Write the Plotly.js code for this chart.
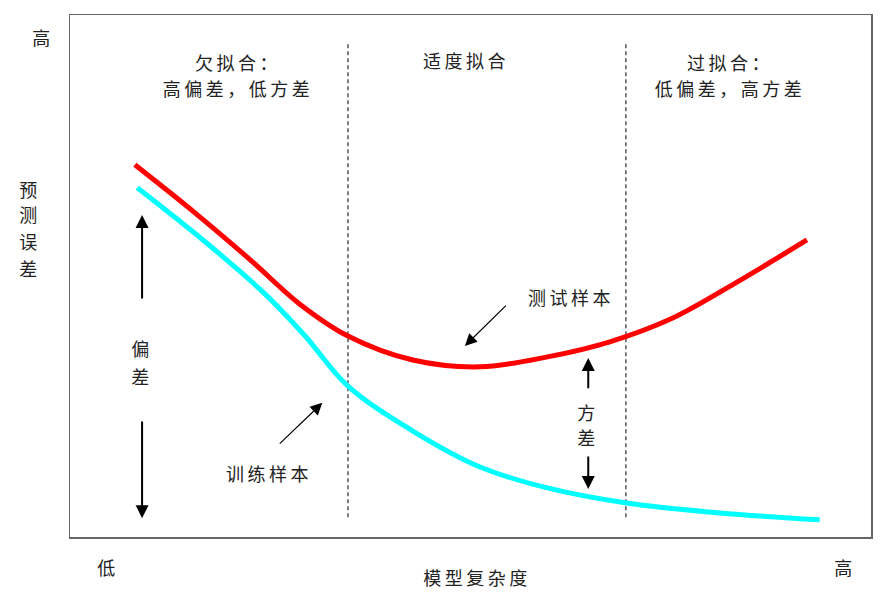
<!DOCTYPE html>
<html><head><meta charset="utf-8">
<script src="https://cdn.plot.ly/plotly-3.0.1.min.js"></script>
<style>
html,body{margin:0;padding:0;background:#fff;}
#chart .annotation-text{letter-spacing:3.5px;}
</style>
</head><body>
<div id="chart" style="width:890px;height:601px;"></div>
<script>
// Model complexity (0-100) vs prediction error (0-100)
const testX  = [8.1, 15.6, 22.5, 28.7, 34.7, 42.8, 51.2, 59.6, 67.4, 74.9, 83.0, 92.0];
const testY  = [71.3, 62.1, 53.1, 44.6, 38.5, 33.9, 32.6, 34.5, 37.4, 41.7, 48.6, 56.9];
const trainX = [8.4, 16.6, 24.1, 29.3, 34.7, 42.8, 51.2, 59.6, 69.5, 81.1, 93.6];
const trainY = [66.9, 56.9, 46.9, 38.6, 28.9, 20.3, 13.4, 9.4, 6.5, 4.6, 3.3];
const dividerX = [34.7, 69.4];
const dividerY = [3.8, 94.6];
const regionLines = [["欠拟合：", "高偏差，低方差"], ["适度拟合"], ["过拟合：", "低偏差，高方差"]];
const regionX = [21.0, 49.4, 82.4];
const xTitle = "模型复杂度";
const yTitle = "预测误差";
const lowLabel = "低";
const highLabel = "高";
const biasLabel = "偏差";
const varLabel = "方差";
const trainLabel = "训练样本";
const testLabel = "测试样本";

const font = {family: "'Noto Sans CJK SC', sans-serif", size: 18, color: "#222"};

const traces = [];
dividerX.forEach(x => traces.push({x: [x, x], y: dividerY, mode: 'lines', line: {color: '#555', width: 1.5, dash: '4px,3px'}, hoverinfo: 'skip', showlegend: false}));
traces.push({x: trainX, y: trainY, mode: 'lines', line: {color: '#00ffff', width: 5, shape: 'spline', smoothing: 1}, showlegend: false});
traces.push({x: testX, y: testY, mode: 'lines', line: {color: '#ff0000', width: 5, shape: 'spline', smoothing: 1}, showlegend: false});

function arrow(x, y, ax, ay, w, size) {
  return {x: x, y: y, ax: ax, ay: ay, xref: 'x', yref: 'y', axref: 'x', ayref: 'y', text: '', showarrow: true, arrowhead: 2, arrowsize: size, arrowwidth: w, arrowcolor: '#000'};
}
function label(text, x, y, xref, yref) {
  return {text: text, x: x, y: y, xref: xref || 'x', yref: yref || 'y', showarrow: false, font: font, xanchor: 'center', yanchor: 'middle'};
}
const annotations = [
  arrow(9.0, 61.7, 9.0, 45.4, 2, 1.3),
  arrow(9.0, 3.6, 9.0, 22.4, 2, 1.3),
  arrow(64.7, 34.3, 64.7, 28.2, 2, 1.3),
  arrow(64.7, 9.2, 64.7, 15.7, 2, 1.3),
  arrow(31.5, 25.7, 26.0, 17.6, 1.2, 2),
  arrow(49.3, 36.6, 54.6, 44.6, 1.2, 2),
  label(trainLabel, 24.8, 12.3),
  label(testLabel, 62.6, 46.0),
  label(highLabel, -0.034, 0.958, 'paper', 'paper'),
  label(lowLabel, 0.047, -0.057, 'paper', 'paper'),
  label(xTitle, 0.508, -0.077, 'paper', 'paper'),
  label(highLabel, 0.967, -0.057, 'paper', 'paper')
];
// stacked (vertical) texts, one character per annotation
const yTitleY = [0.667, 0.619, 0.567, 0.515];
yTitle.split('').forEach((c, i) => annotations.push(label(c, -0.05, yTitleY[i], 'paper', 'paper')));
const biasY = [36.2, 30.8];
biasLabel.split('').forEach((c, i) => annotations.push(label(c, 9.0, biasY[i])));
const varY = [23.9, 19.2];
varLabel.split('').forEach((c, i) => annotations.push(label(c, 64.7, varY[i])));
const lineY = {1: [91.4], 2: [91.0, 86.0]};
regionLines.forEach((lines, i) => lines.forEach((t, j) => annotations.push(label(t, regionX[i], lineY[lines.length][j]))));

const axisCommon = {range: [0, 100], showgrid: false, zeroline: false, showticklabels: false, ticks: '', showline: true, mirror: true, linecolor: '#666', linewidth: 1.5, fixedrange: true};
const layout = {
  width: 890, height: 601,
  margin: {l: 70, r: 19, t: 15, b: 64},
  paper_bgcolor: '#fff', plot_bgcolor: '#fff',
  xaxis: axisCommon,
  yaxis: axisCommon,
  annotations: annotations,
  font: font,
  showlegend: false
};
Plotly.newPlot('chart', traces, layout, {staticPlot: true});
</script>
</body></html>
